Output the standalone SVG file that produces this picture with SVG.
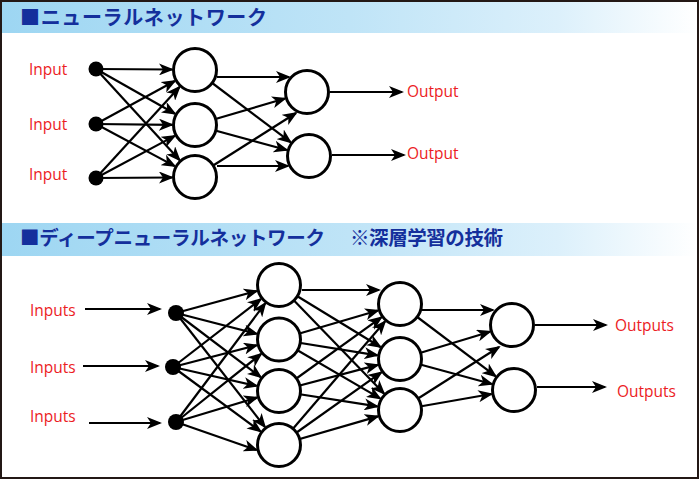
<svg xmlns="http://www.w3.org/2000/svg" width="700" height="480" viewBox="0 0 700 480">
<defs>
<linearGradient id="band" x1="0" y1="0" x2="1" y2="0">
<stop offset="0" stop-color="#9dd6f2"/>
<stop offset="0.5" stop-color="#bfe4f7"/>
<stop offset="0.8" stop-color="#dcf0fb"/>
<stop offset="1" stop-color="#ffffff"/>
</linearGradient>
<marker id="ah" viewBox="0 0 15 12" refX="13" refY="6" markerWidth="15" markerHeight="12" markerUnits="userSpaceOnUse" orient="auto">
<path d="M0,0 L15,6 L0,12 L4,6 Z" fill="#000"/>
</marker>
<style>
.hd{font-family:"Noto Sans CJK JP","Noto Sans CJK SC",sans-serif;font-weight:bold;fill:#142f9c;}
.lb{font-family:"Open Sans","Noto Sans",sans-serif;font-size:15.5px;fill:#ec1c24;}
.n{fill:#fff;stroke:#000;stroke-width:3;}
.d{fill:#000;}
#connectors line{stroke:#000;stroke-width:2.2;marker-end:url(#ah);}
</style>
</defs>
<rect x="0" y="0" width="700" height="480" fill="#fff"/>
<rect x="2" y="2" width="695" height="31" fill="url(#band)"/>
<rect x="2" y="223" width="695" height="33" fill="url(#band)"/>
<rect x="1" y="1" width="697" height="477" fill="none" stroke="#231815" stroke-width="2"/>

<g id="title1"><text class="hd" x="20" y="25" font-size="20" textLength="247" lengthAdjust="spacing">■ニューラルネットワーク</text></g>
<g id="title2">
<text class="hd" x="20" y="245" font-size="19.5" textLength="305" lengthAdjust="spacing">■ディープニューラルネットワーク</text>
<text class="hd" x="350" y="245" font-size="19.5" textLength="153" lengthAdjust="spacing">※深層学習の技術</text>
</g>

<g id="connectors">
<!-- network 1: inputs to layer 1 -->
<line x1="96" y1="69" x2="172" y2="69.5"/>
<line x1="96" y1="69" x2="175" y2="113.7"/>
<line x1="96" y1="69" x2="179.5" y2="160"/>
<line x1="96" y1="124" x2="174.8" y2="81"/>
<line x1="96" y1="124" x2="172" y2="124.8"/>
<line x1="96" y1="124" x2="174.7" y2="166.1"/>
<line x1="96" y1="178" x2="179.5" y2="87"/>
<line x1="96" y1="178" x2="174.7" y2="135.9"/>
<line x1="96" y1="178" x2="172" y2="177.5"/>
<!-- network 1: layer 1 to layer 2 -->
<line x1="217" y1="77" x2="289" y2="77"/>
<line x1="195" y1="70" x2="290.6" y2="142.2"/>
<line x1="195" y1="125" x2="285" y2="98.5"/>
<line x1="195" y1="125" x2="286.8" y2="150"/>
<line x1="195" y1="177" x2="296" y2="113"/>
<line x1="217" y1="166" x2="288" y2="166"/>
<!-- network 1: outputs -->
<line x1="330" y1="92" x2="402" y2="92"/>
<line x1="332" y1="155" x2="404" y2="155"/>

<!-- network 2: input arrows -->
<line x1="85" y1="309" x2="160" y2="309"/>
<line x1="83" y1="366" x2="158" y2="366"/>
<line x1="89" y1="423" x2="160" y2="423"/>
<!-- network 2: dots to layer A -->
<line x1="176" y1="313" x2="256.8" y2="291"/>
<line x1="176" y1="313" x2="256.7" y2="333.8"/>
<line x1="176" y1="313" x2="260.7" y2="377.1"/>
<line x1="176" y1="313" x2="264.9" y2="426.9"/>
<line x1="173" y1="367" x2="260.8" y2="299.1"/>
<line x1="173" y1="367" x2="256.7" y2="345.3"/>
<line x1="173" y1="367" x2="256.6" y2="385.9"/>
<line x1="173" y1="367" x2="260.5" y2="431.4"/>
<line x1="176" y1="422" x2="265.2" y2="303.4"/>
<line x1="176" y1="422" x2="261.1" y2="353.9"/>
<line x1="176" y1="422" x2="257" y2="397.6"/>
<line x1="176" y1="422" x2="256.6" y2="450"/>
<!-- network 2: layer A to layer B -->
<line x1="302" y1="290" x2="379" y2="290"/>
<line x1="279" y1="285" x2="380.4" y2="347"/>
<line x1="279" y1="285" x2="384" y2="393.5"/>
<line x1="279" y1="339.5" x2="377.9" y2="310.5"/>
<line x1="279" y1="339.5" x2="377.3" y2="355.3"/>
<line x1="279" y1="339.5" x2="380.1" y2="398.4"/>
<line x1="279" y1="391" x2="381.3" y2="317.4"/>
<line x1="279" y1="391" x2="377.8" y2="364.9"/>
<line x1="279" y1="391" x2="377.3" y2="406.4"/>
<line x1="279" y1="445" x2="385" y2="321.5"/>
<line x1="279" y1="445" x2="381.3" y2="372.3"/>
<line x1="279" y1="445" x2="377.9" y2="416.4"/>
<!-- network 2: layer B to layer C -->
<line x1="421" y1="310" x2="493" y2="310"/>
<line x1="400" y1="304" x2="495.6" y2="376.2"/>
<line x1="400" y1="359" x2="490" y2="331.7"/>
<line x1="400" y1="359" x2="491.8" y2="384"/>
<line x1="400" y1="410" x2="499" y2="347"/>
<line x1="400" y1="410" x2="491.3" y2="394"/>
<!-- network 2: outputs -->
<line x1="535" y1="325" x2="606" y2="325"/>
<line x1="537" y1="387" x2="605" y2="387"/>
</g>

<g id="labels1">
<text class="lb" x="29" y="75">Input</text>
<text class="lb" x="29" y="130">Input</text>
<text class="lb" x="29" y="180">Input</text>
<text class="lb" x="407" y="97">Output</text>
<text class="lb" x="407" y="159">Output</text>
</g>
<g id="labels2">
<text class="lb" x="30" y="316">Inputs</text>
<text class="lb" x="30" y="373">Inputs</text>
<text class="lb" x="30" y="422">Inputs</text>
<text class="lb" x="615" y="331">Outputs</text>
<text class="lb" x="617" y="397">Outputs</text>
</g>

<g id="in1"><circle class="d" cx="96" cy="69" r="7.5"/></g>
<g id="in2"><circle class="d" cx="96" cy="124" r="7.5"/></g>
<g id="in3"><circle class="d" cx="96" cy="178" r="7.5"/></g>
<g id="h1"><circle class="n" cx="195" cy="70" r="21.5"/></g>
<g id="h2"><circle class="n" cx="195" cy="125" r="21.5"/></g>
<g id="h3"><circle class="n" cx="195" cy="177" r="21.5"/></g>
<g id="o1"><circle class="n" cx="307" cy="92" r="21.5"/></g>
<g id="o2"><circle class="n" cx="309" cy="156" r="21.5"/></g>

<g id="din1"><circle class="d" cx="176" cy="313" r="8"/></g>
<g id="din2"><circle class="d" cx="173" cy="367" r="8"/></g>
<g id="din3"><circle class="d" cx="176" cy="422" r="8"/></g>
<g id="a1"><circle class="n" cx="279" cy="285" r="21.5"/></g>
<g id="a2"><circle class="n" cx="279" cy="339.5" r="21.5"/></g>
<g id="a3"><circle class="n" cx="279" cy="391" r="21.5"/></g>
<g id="a4"><circle class="n" cx="279" cy="445" r="21.5"/></g>
<g id="b1"><circle class="n" cx="400" cy="304" r="21.5"/></g>
<g id="b2"><circle class="n" cx="400" cy="359" r="21.5"/></g>
<g id="b3"><circle class="n" cx="400" cy="410" r="21.5"/></g>
<g id="c1"><circle class="n" cx="512" cy="325" r="21.5"/></g>
<g id="c2"><circle class="n" cx="514" cy="390" r="21.5"/></g>
</svg>
